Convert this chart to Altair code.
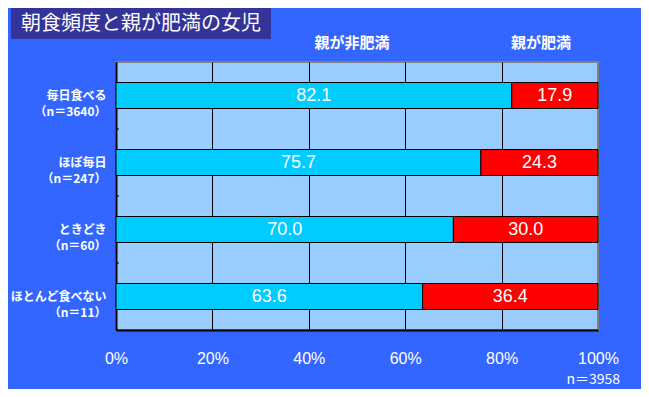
import altair as alt
import pandas as pd

title_text = "朝食頻度と親が肥満の女児"
categories = ["毎日食べる|（n＝3640）", "ほぼ毎日|（n＝247）", "ときどき|（n＝60）", "ほとんど食べない|（n＝11）"]
series = ["親が非肥満", "親が肥満"]
non_obese = [82.1, 75.7, 70.0, 63.6]
obese = [17.9, 24.3, 30.0, 36.4]
x_ticks = [0, 20, 40, 60, 80, 100]
total_n = "n＝3958"

rows = []
for c, a, b in zip(categories, non_obese, obese):
    rows.append({"category": c, "series": series[0], "value": a, "start": 0.0, "end": a, "mid": a / 2})
    rows.append({"category": c, "series": series[1], "value": b, "start": a, "end": a + b, "mid": a + b / 2})
df = pd.DataFrame(rows)

JP = "Noto Sans CJK JP"
NUM = "Liberation Sans"

yscale = alt.Scale(domain=categories, paddingInner=0, paddingOuter=0)
xscale = alt.Scale(domain=[0, 100], nice=False)

bars = alt.Chart(df).mark_bar(size=26, stroke="black", strokeWidth=1).encode(
    y=alt.Y("category:N", scale=yscale, sort=categories, title=None,
            axis=alt.Axis(labelExpr="split(datum.label, '|')", labelFont=JP, labelFontSize=12,
                          labelFontWeight="bold", labelColor="white", labelLineHeight=16,
                          labelPadding=10, ticks=False, domain=True, domainColor="black",
                          domainWidth=2, grid=False)),
    x=alt.X("start:Q", scale=xscale, title=None,
            axis=alt.Axis(values=x_ticks, labelExpr="datum.value + '%'", labelFont=NUM,
                          labelFontSize=16, labelColor="white", labelPadding=20, ticks=False,
                          labelFlush=False, labelOverlap=False,
                          domainColor="black", domainWidth=2,
                          grid=True,
                          gridColor={"condition": {"test": "datum.value === 100", "value": "#808080"}, "value": "black"},
                          gridWidth=1)),
    x2="end:Q",
    color=alt.Color("series:N", scale=alt.Scale(domain=series, range=["#00CCFF", "#FF0000"]), legend=None),
)

values = alt.Chart(df).mark_text(font=NUM, fontSize=18, color="white", baseline="middle").encode(
    y=alt.Y("category:N", scale=yscale, sort=categories),
    x=alt.X("mid:Q", scale=xscale),
    text=alt.Text("value:Q", format=".1f"),
)

tick_df = pd.DataFrame({"category": categories[1:]})
ticks = alt.Chart(tick_df).mark_rule(color="black", strokeWidth=1).encode(
    y=alt.Y("category:N", scale=yscale, sort=categories, bandPosition=0),
    x=alt.value(0),
    x2=alt.value(3),
)

title_box = alt.Chart(pd.DataFrame({"t": [title_text]})).mark_rect(color="#333399").encode(
    x=alt.value(-105), x2=alt.value(155), y=alt.value(-54), y2=alt.value(-23)
)
title = alt.Chart(pd.DataFrame({"t": [title_text]})).mark_text(
    font=JP, fontSize=20, color="white", align="center", baseline="middle"
).encode(text="t:N", x=alt.value(25), y=alt.value(-38))

leg1 = alt.Chart(pd.DataFrame({"t": [series[0]]})).mark_text(
    font=JP, fontSize=15, fontWeight="bold", color="white", align="center", baseline="middle"
).encode(text="t:N", x=alt.value(236), y=alt.value(-19))
leg2 = alt.Chart(pd.DataFrame({"t": [series[1]]})).mark_text(
    font=JP, fontSize=15, fontWeight="bold", color="white", align="center", baseline="middle"
).encode(text="t:N", x=alt.value(425), y=alt.value(-19))

ntext = alt.Chart(pd.DataFrame({"t": [total_n]})).mark_text(
    font=JP, fontSize=14, color="white", align="right", baseline="middle"
).encode(text="t:N", x=alt.value(504), y=alt.value(318))

chart = alt.layer(bars, values, ticks, title_box, title, leg1, leg2, ntext).properties(
    width=482, height=268,
    autosize=alt.AutoSizeParams(type="none"),
    padding={"left": 108, "top": 54, "right": 43, "bottom": 59},
    background="#3366FF",
).configure_view(
    fill="#99CCFF", stroke="#808080", strokeWidth=2
)

chart.save("out.html", embed_options={"renderer": "svg", "actions": False})
